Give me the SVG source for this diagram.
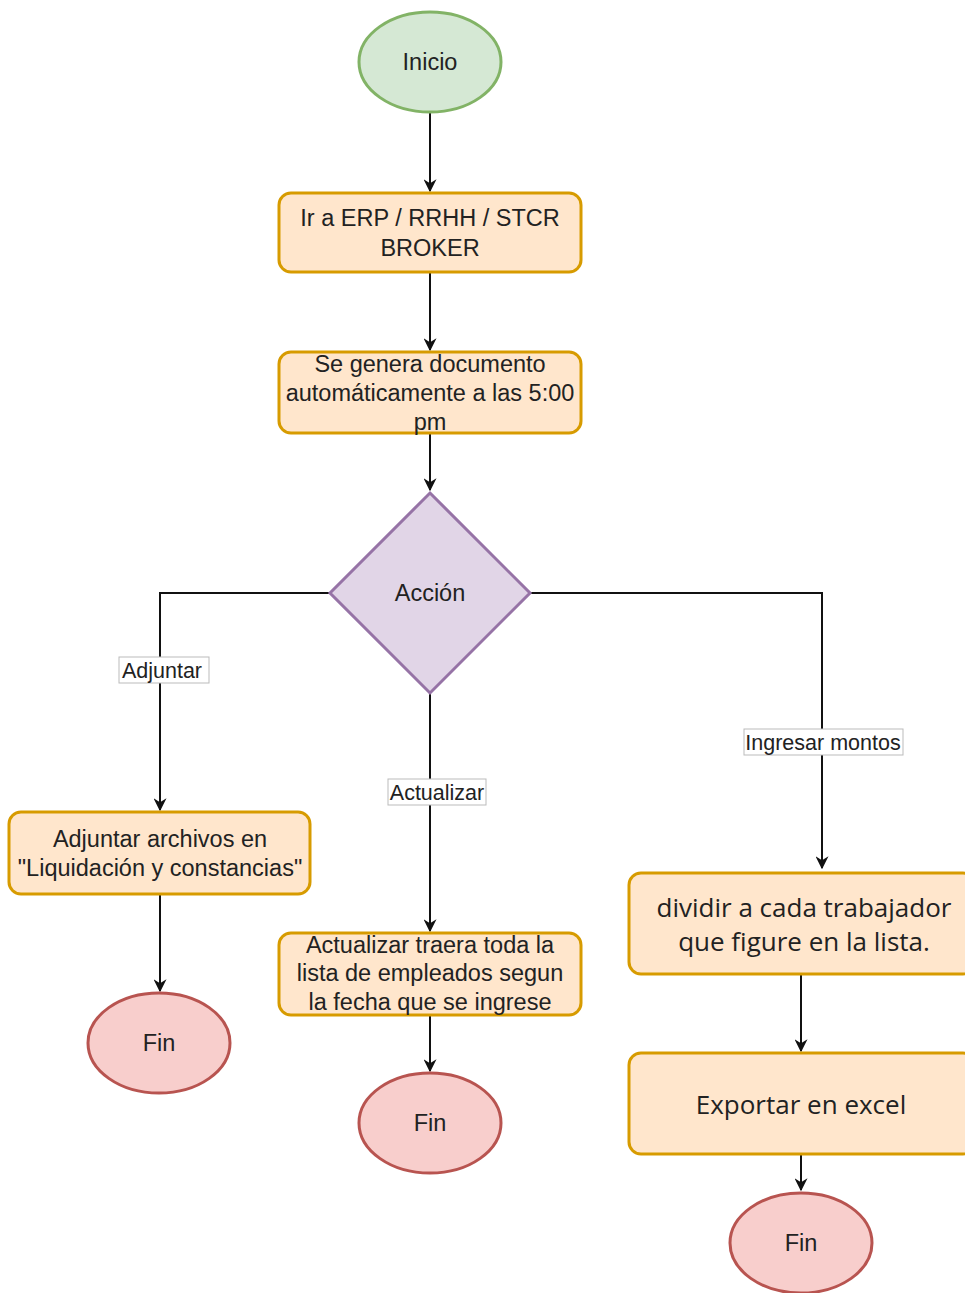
<svg xmlns="http://www.w3.org/2000/svg" width="965" height="1293" viewBox="0 0 965 1293">
<defs>
<style>
.t{font-family:"Liberation Sans",Arial,sans-serif;font-size:23.5px;fill:#222;text-anchor:middle}
.s{font-family:"Open Sans","Noto Sans",sans-serif;font-size:26px;fill:#222;text-anchor:middle}
.l{font-family:"Liberation Sans",Arial,sans-serif;font-size:21.5px;fill:#222;text-anchor:middle}
.lb{fill:#fff;stroke:#bbb;stroke-width:1}
.box{fill:#ffe6cc;stroke:#d79b00;stroke-width:3}
.fin{fill:#f8cecc;stroke:#b85450;stroke-width:3}
.c{fill:none;stroke:#111;stroke-width:2}
</style>
<marker id="a" viewBox="0 0 10 10" refX="9" refY="5" markerWidth="6.5" markerHeight="6.5" orient="auto" markerUnits="strokeWidth">
<path d="M0,0 L10,5 L0,10 L3,5 z" fill="#111"/>
</marker>
</defs>
<rect width="965" height="1293" fill="#fff"/>
<g id="connectors">
<path class="c" d="M430,112 V191" marker-end="url(#a)"/>
<path class="c" d="M430,272 V350" marker-end="url(#a)"/>
<path class="c" d="M430,433 V490" marker-end="url(#a)"/>
<path class="c" d="M329,593 H160 V810" marker-end="url(#a)"/>
<path class="c" d="M430,693 V931" marker-end="url(#a)"/>
<path class="c" d="M531,593 H822 V868" marker-end="url(#a)"/>
<path class="c" d="M160,894 V991" marker-end="url(#a)"/>
<path class="c" d="M430,1015 V1071" marker-end="url(#a)"/>
<path class="c" d="M801,974 V1051" marker-end="url(#a)"/>
<path class="c" d="M801,1154 V1190" marker-end="url(#a)"/>
<rect class="lb" x="119" y="657" width="90" height="26"/>
<text class="l" x="162" y="678">Adjuntar</text>
<rect class="lb" x="388" y="779" width="98" height="26"/>
<text class="l" x="437" y="800">Actualizar</text>
<rect class="lb" x="744" y="729" width="159" height="26"/>
<text class="l" x="823" y="750">Ingresar montos</text>
</g>
<g id="inicio">
<ellipse cx="430" cy="62" rx="71" ry="50" fill="#d5e8d4" stroke="#82b366" stroke-width="3"/>
<text class="t" x="430" y="70">Inicio</text>
</g>
<g id="ir-erp">
<rect class="box" x="279" y="193" width="302" height="79" rx="12"/>
<text class="t" x="430" y="226">Ir a ERP / RRHH / STCR</text>
<text class="t" x="430" y="256">BROKER</text>
</g>
<g id="genera">
<rect class="box" x="279" y="352" width="302" height="81" rx="12"/>
<text class="t" x="430" y="372">Se genera documento</text>
<text class="t" x="430" y="401">automáticamente a las 5:00</text>
<text class="t" x="430" y="430">pm</text>
</g>
<g id="accion">
<polygon points="430,493 530,593 430,693 330,593" fill="#e1d5e7" stroke="#9673a6" stroke-width="3"/>
<text class="t" x="430" y="601">Acción</text>
</g>
<g id="adjuntar-archivos">
<rect class="box" x="9" y="812" width="301" height="82" rx="12"/>
<text class="t" x="160" y="847">Adjuntar archivos en</text>
<text class="t" x="160" y="876">"Liquidación y constancias"</text>
</g>
<g id="fin-1">
<ellipse class="fin" cx="159" cy="1043" rx="71" ry="50"/>
<text class="t" x="159" y="1051">Fin</text>
</g>
<g id="actualizar-lista">
<rect class="box" x="279" y="933" width="302" height="82" rx="12"/>
<text class="t" x="430" y="953">Actualizar traera toda la</text>
<text class="t" x="430" y="981">lista de empleados segun</text>
<text class="t" x="430" y="1010">la fecha que se ingrese</text>
</g>
<g id="fin-2">
<ellipse class="fin" cx="430" cy="1123" rx="71" ry="50"/>
<text class="t" x="430" y="1131">Fin</text>
</g>
<g id="dividir">
<rect class="box" x="629" y="873" width="346" height="101" rx="12"/>
<text class="s" x="804" y="917">dividir a cada trabajador</text>
<text class="s" x="804" y="951">que figure en la lista.</text>
</g>
<g id="exportar">
<rect class="box" x="629" y="1053" width="346" height="101" rx="12"/>
<text class="s" x="801" y="1114">Exportar en excel</text>
</g>
<g id="fin-3">
<ellipse class="fin" cx="801" cy="1243" rx="71" ry="50"/>
<text class="t" x="801" y="1251">Fin</text>
</g>
</svg>
